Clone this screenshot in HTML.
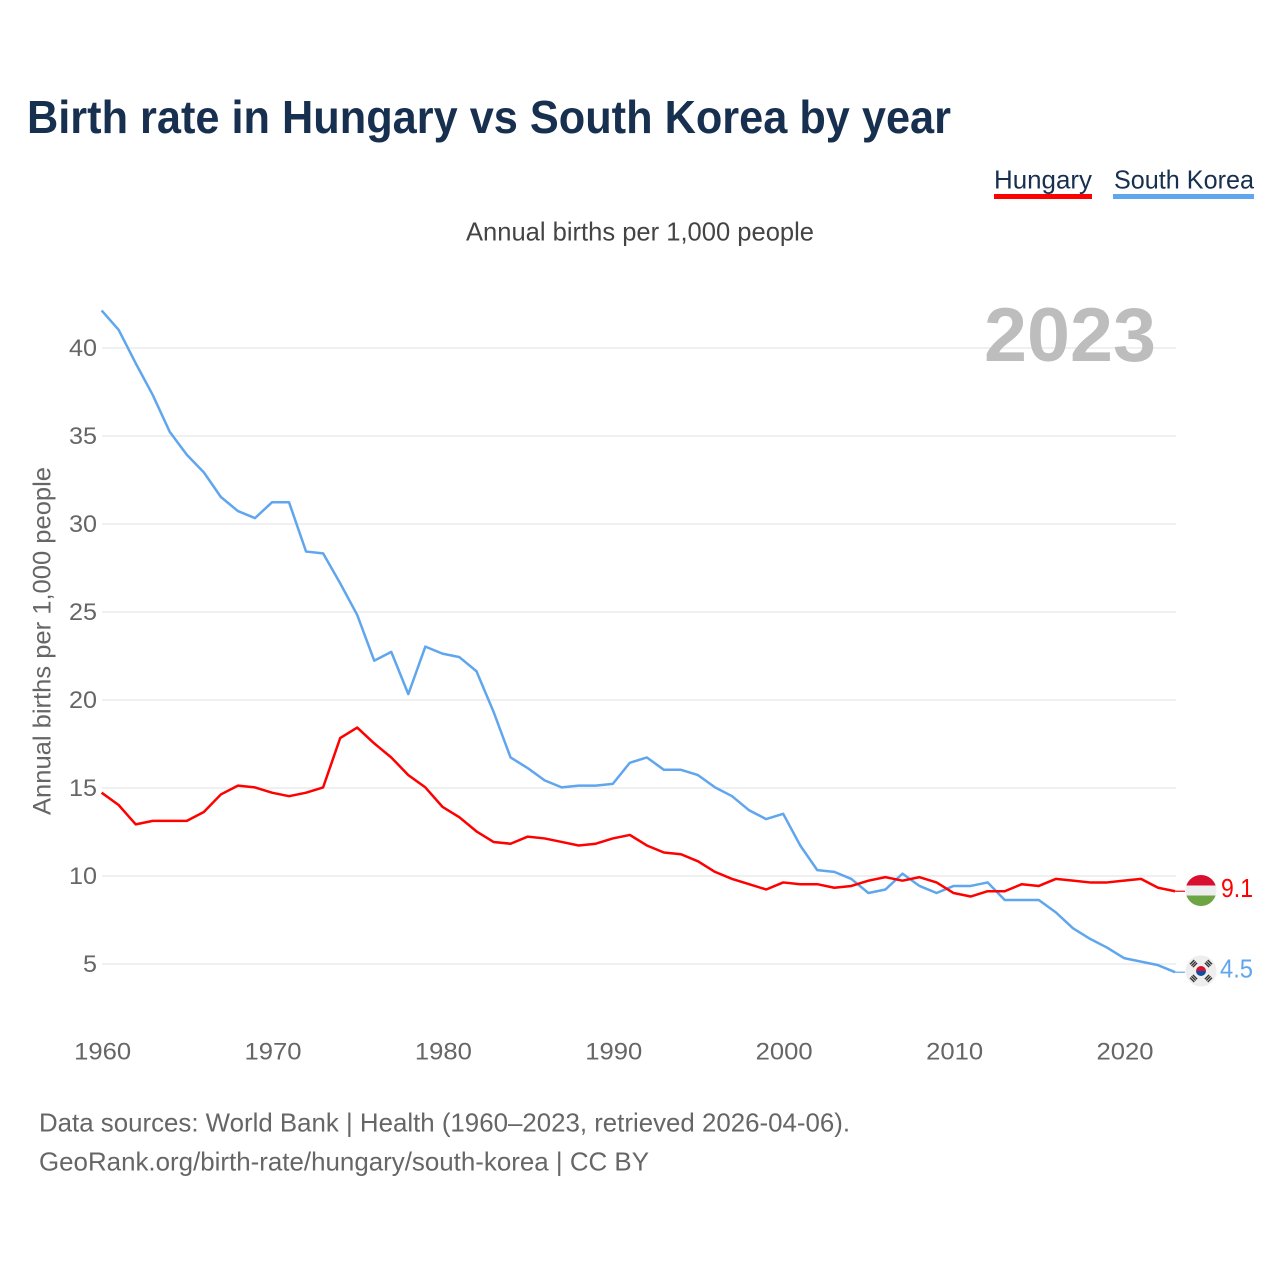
<!DOCTYPE html>
<html lang="en">
<head>
<meta charset="utf-8">
<title>Birth rate in Hungary vs South Korea by year</title>
<style>
html,body{margin:0;padding:0;background:#fff;width:1280px;height:1280px;overflow:hidden}
svg{display:block;font-family:"Liberation Sans",sans-serif}
</style>
</head>
<body>
<svg id="chart" xmlns="http://www.w3.org/2000/svg" width="1280" height="1280" viewBox="0 0 1280 1280">
  <rect x="0" y="0" width="1280" height="1280" fill="#fff"/>
  <text x="27" y="133" font-size="46" font-weight="700" fill="#18304f" textLength="924" lengthAdjust="spacingAndGlyphs">Birth rate in Hungary vs South Korea by year</text>
  <g>
    <text x="994" y="188.500" font-size="26" fill="#18304f" textLength="98" lengthAdjust="spacingAndGlyphs">Hungary</text>
    <rect x="994" y="194" width="98" height="5" fill="#ff0000"/>
  </g>
  <g>
    <text x="1114" y="188.500" font-size="26" fill="#18304f" textLength="140" lengthAdjust="spacingAndGlyphs">South Korea</text>
    <rect x="1113" y="194" width="141" height="5" fill="#5fa6ee"/>
  </g>
  <text x="466" y="240.500" font-size="26" fill="#444" textLength="348" lengthAdjust="spacingAndGlyphs">Annual births per 1,000 people</text>
  <text transform="translate(50.500,815) rotate(-90)" x="0" y="0" font-size="25" fill="#666" textLength="348" lengthAdjust="spacingAndGlyphs">Annual births per 1,000 people</text>
  <g id="grid"></g>
  <g id="yticks"></g>
  <g id="xticks"></g>
  <text x="984" y="361" font-size="76" font-weight="700" fill="#bdbdbd" textLength="172" lengthAdjust="spacingAndGlyphs">2023</text>
  <g id="series"></g>

  <defs>
    <clipPath id="hu-clip"><circle cx="1201" cy="890.500" r="15.500"/></clipPath>
    <clipPath id="kr-clip"><circle cx="1201" cy="971" r="15.500"/></clipPath>
  </defs>
  <g clip-path="url(#hu-clip)">
    <rect x="1185" y="875" width="32" height="10.500" fill="#d80f30"/>
    <rect x="1185" y="885.500" width="32" height="10" fill="#eeeeee"/>
    <rect x="1185" y="895.500" width="32" height="11" fill="#6da544"/>
  </g>
  <g clip-path="url(#kr-clip)">
    <rect x="1185" y="955" width="32" height="32" fill="#eeeeee"/>
    <path d="M1196 971a5 5 0 0 1 10 0z" fill="#d80f30"/>
    <path d="M1196 971a5 5 0 0 0 10 0z" fill="#0b4ea2"/>
    <g transform="translate(1201,971) rotate(45)" stroke="#333" stroke-width="1.4" fill="none">
      <path d="M-8.500 -3V3M-10.500 -3V3M-12.500 -3V3M8.500 -3V3M10.500 -3V3M12.500 -3V3"/>
    </g>
    <g transform="translate(1201,971) rotate(-45)" stroke="#333" stroke-width="1.4" fill="none">
      <path d="M-8.500 -3V3M-10.500 -3V3M-12.500 -3V3M8.500 -3V3M10.500 -3V3M12.500 -3V3"/>
    </g>
  </g>
  <text id="label-hu" x="1221" y="897" font-size="26" fill="#ff0000" textLength="32" lengthAdjust="spacingAndGlyphs"></text>
  <text id="label-kr" x="1220" y="977.500" font-size="26" fill="#5fa6ee" textLength="33" lengthAdjust="spacingAndGlyphs"></text>

  <text x="39" y="1131.500" font-size="26" fill="#666" textLength="811" lengthAdjust="spacingAndGlyphs">Data sources: World Bank | Health (1960–2023, retrieved 2026-04-06).</text>
  <text x="39" y="1170.500" font-size="26" fill="#666" textLength="610" lengthAdjust="spacingAndGlyphs">GeoRank.org/birth-rate/hungary/south-korea | CC BY</text>
</svg>
<script>
const startYear = 1960;
const hungaryValues = [14.7,14.0,12.9,13.1,13.1,13.1,13.6,14.6,15.1,15.0,14.7,14.5,14.7,15.0,17.8,18.4,17.5,16.7,15.7,15.0,13.9,13.3,12.5,11.9,11.8,12.2,12.1,11.9,11.7,11.8,12.1,12.3,11.7,11.3,11.2,10.8,10.2,9.8,9.5,9.2,9.6,9.5,9.5,9.3,9.4,9.7,9.9,9.7,9.9,9.6,9.0,8.8,9.1,9.1,9.5,9.4,9.8,9.7,9.6,9.6,9.7,9.8,9.3,9.1];
const koreaValues = [42.1,41.0,39.1,37.3,35.2,33.9,32.9,31.5,30.7,30.3,31.2,31.2,28.4,28.3,26.6,24.8,22.2,22.7,20.3,23.0,22.6,22.4,21.6,19.3,16.7,16.1,15.4,15.0,15.1,15.1,15.2,16.4,16.7,16.0,16.0,15.7,15.0,14.5,13.7,13.2,13.5,11.7,10.3,10.2,9.8,9.0,9.2,10.1,9.4,9.0,9.4,9.4,9.6,8.6,8.6,8.6,7.9,7.0,6.4,5.9,5.3,5.1,4.9,4.5];
const yTickValues = [5,10,15,20,25,30,35,40];
const xTickValues = [1960,1970,1980,1990,2000,2010,2020];

const NS = 'http://www.w3.org/2000/svg';
function xScale(year){ return 101.6 + (year - 1960) * 17.04; }
function yScale(v){ return 1052 - 17.6 * v; }
function lineY(v){ return yScale(v) - 0.6; }
function make(tag, attrs, parent){
  const el = document.createElementNS(NS, tag);
  for (const k in attrs) el.setAttribute(k, attrs[k]);
  parent.appendChild(el);
  return el;
}

const grid = document.getElementById('grid');
const yticks = document.getElementById('yticks');
yTickValues.forEach(function(v){
  const line = make('line', {x1:102, x2:1176, y1:yScale(v), y2:yScale(v), stroke:'#ebebeb', 'stroke-width':1.5}, grid);
  
  
  const t = make('text', {x:97, y:yScale(v)+8, 'text-anchor':'end', 'font-size':24, fill:'#666', textLength:28, lengthAdjust:'spacingAndGlyphs'}, yticks);
  
  
  t.textContent = v;
  if (String(v).length === 1) { t.setAttribute('textLength', 14); }
});

const xticks = document.getElementById('xticks');
xTickValues.forEach(function(y){
  const t = make('text', {x:xScale(y)+1, y:1059.5, 'text-anchor':'middle', 'font-size':24, fill:'#666', textLength:57, lengthAdjust:'spacingAndGlyphs'}, xticks);
  
  
  t.textContent = y;
});

function toPoints(values){
  return values.map(function(v, i){ return xScale(startYear + i).toFixed(2) + ',' + lineY(v).toFixed(2); }).join(' ');
}
const series = document.getElementById('series');

const koreaLine = make('polyline', {points:toPoints(koreaValues), fill:'none', stroke:'#5fa6ee', 'stroke-width':2.5, 'stroke-linejoin':'round'}, series);


const koreaEnd = koreaValues[koreaValues.length-1];
const koreaConn = make('line', {x1:xScale(2023), x2:1185, y1:lineY(koreaEnd), y2:lineY(koreaEnd), stroke:'#5fa6ee', 'stroke-width':1.2}, series);



const hungaryLine = make('polyline', {points:toPoints(hungaryValues), fill:'none', stroke:'#ff0000', 'stroke-width':2.5, 'stroke-linejoin':'round'}, series);


const hungaryEnd = hungaryValues[hungaryValues.length-1];
const hungaryConn = make('line', {x1:xScale(2023), x2:1185, y1:lineY(hungaryEnd), y2:lineY(hungaryEnd), stroke:'#ff0000', 'stroke-width':1.2}, series);



document.getElementById('label-hu').textContent = hungaryEnd.toFixed(1);
document.getElementById('label-kr').textContent = koreaEnd.toFixed(1);
</script>
</body>
</html>
